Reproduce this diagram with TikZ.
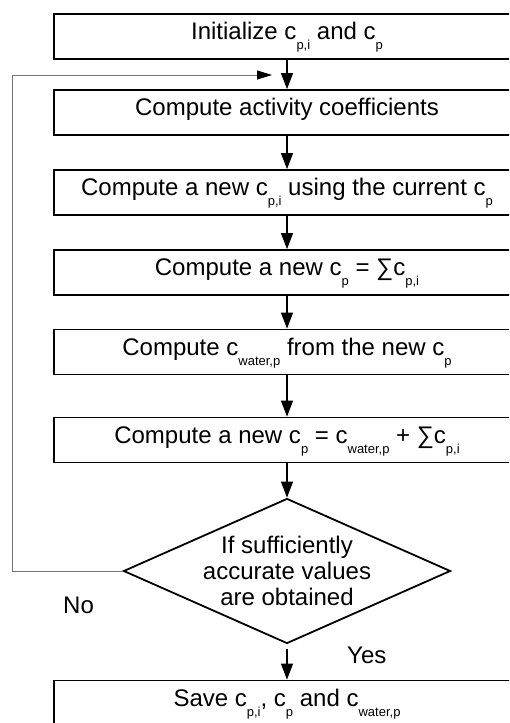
\documentclass[tikz,border=0pt]{standalone}
\usepackage{fontspec}
\setmainfont{Liberation Sans}
\usetikzlibrary{arrows.meta,shapes.geometric}
\newcommand{\sbs}[1]{\raisebox{-10pt}{\fontsize{13}{13}\selectfont #1}}
\begin{document}
\begin{tikzpicture}[x=1pt,y=-1pt,
  every node/.style={font=\fontsize{24}{26}\selectfont, text=black},
  stepbox/.style={draw=black, line width=1.8pt, minimum width=466pt, minimum height=45pt,
    inner sep=2pt, text height=18pt, text depth=12pt, anchor=center},
  flow/.style={line width=1.2pt, draw=black, -{Triangle[length=16pt,width=12pt]}},
  loopline/.style={line width=0.9pt, draw=black!55, -{Triangle[length=15pt,width=9pt,fill=black,color=black]}}
]
\useasboundingbox (0,0) rectangle (509,723);
\clip (0,0) rectangle (509,723);
\fill[white] (0,0) rectangle (509,723);

\node[stepbox] (b1) at (287,36.5) {Initialize c\sbs{p,i} and c\sbs{p}};
\node[stepbox] (b2) at (287,112.5) {Compute activity coefficients};
\node[stepbox] (b3) at (287,192.5) {Compute a new c\sbs{p,i} using the current c\sbs{p}};
\node[stepbox] (b4) at (287,272.5) {Compute a new c\sbs{p} = ∑c\sbs{p,i}};
\node[stepbox] (b5) at (287,352) {Compute c\sbs{water,p} from the new c\sbs{p}};
\node[stepbox] (b6) at (287,440) {Compute a new c\sbs{p} = c\sbs{water,p} + ∑c\sbs{p,i}};
\node[diamond, draw=black, line width=1.8pt, minimum width=327pt, minimum height=145pt, inner sep=0pt] (dec) at (287,571) {};
\node[align=center, font=\fontsize{24}{26}\selectfont] (dect) at (287,571) {If sufficiently\\accurate values\\are obtained};
\node[stepbox] (b7) at (287,703) {Save c\sbs{p,i}, c\sbs{p} and c\sbs{water,p}};

\node[anchor=base west, inner sep=0pt] (no) at (63,613) {No};
\node[anchor=base west, inner sep=0pt] (yes) at (347,663) {Yes};

\draw[flow] (b1.south) -- (b2.north);
\draw[flow] (b2.south) -- (b3.north);
\draw[flow] (b3.south) -- (b4.north);
\draw[flow] (b4.south) -- (b5.north);
\draw[flow] (b5.south) -- (b6.north);
\draw[flow] (b6.south) -- (dec.north);
\draw[flow, shorten <=5pt] (dec.south) -- (b7.north);

\coordinate (lc) at (12,75);
\coordinate (le) at (272,75);
\draw[loopline] (dec.west) -| (lc) -- (le);
\end{tikzpicture}
\end{document}
